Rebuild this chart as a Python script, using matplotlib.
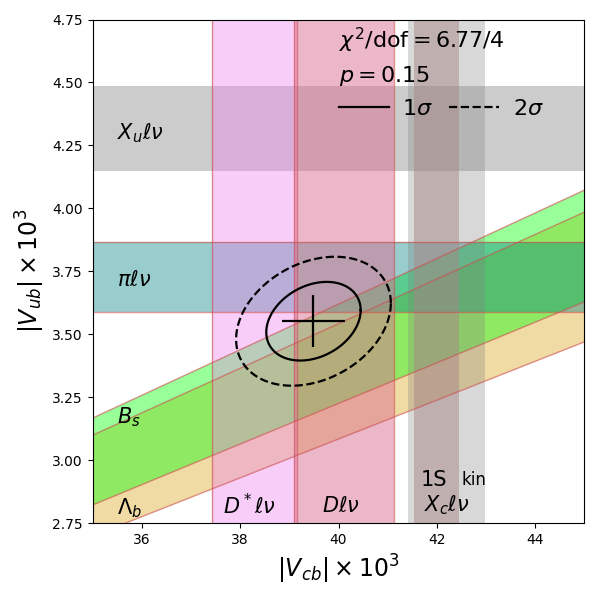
import numpy as np
import matplotlib
matplotlib.use("Agg")
import matplotlib.pyplot as plt
from matplotlib.lines import Line2D

# ---- data ----
vcb_center = 39.49
vub_center = 3.552
sig_vcb = 0.633
sig_vub = 0.103
rho = 0.28
dchi2_levels = [2.30, 6.18]
level_styles = ["-", "--"]
level_names = [r"$1\sigma$", r"$2\sigma$"]

# horizontal bands (|Vub| x 1e3)
h_names = [r"$X_u\ell\nu$", r"$\pi\ell\nu$"]
h_lo = [4.148, 3.587]
h_hi = [4.485, 3.865]
h_colors = ["gray", "teal"]
h_alphas = [0.4, 0.4]
h_edges = [False, True]

# ratio bands |Vub|/|Vcb|
r_names = [r"$\Lambda_b$", r"$B_s$"]
r_lo = [0.07711, 0.08064]
r_hi = [0.08856, 0.09050]
r_colors = ["goldenrod", "lime"]

# vertical bands (|Vcb| x 1e3)
v_names = [r"$D^*\ell\nu$", r"$D\ell\nu$"]
v_lo = [37.434, 39.10]
v_hi = [39.16, 41.12]
v_colors = ["violet", "palevioletred"]
v_alphas = [0.4, 0.5]

xc_names = ["kin", "1S"]
xc_lo = [41.42, 41.54]
xc_hi = [42.985, 42.44]
xc_colors = ["gray", "#a78787"]
xc_alphas = [0.3, 0.5]

chi2_text = r"$\chi^2/\mathrm{dof} = 6.77/4$"
p_text = r"$p = 0.15$"

xlim = (35, 45)
ylim = (2.75, 4.75)
xticks = [36, 38, 40, 42, 44]
yticks = [2.75, 3.00, 3.25, 3.50, 3.75, 4.00, 4.25, 4.50, 4.75]

edge = (0.8, 0.3, 0.3, 0.6)

fig = plt.figure(figsize=(6, 6), dpi=100)
ax = fig.add_axes([0.1545, 0.128, 0.8195, 0.8395])

xs = np.linspace(xlim[0], xlim[1], 200)

# Xu band (gray, no edge)
ax.fill_between(xs, h_lo[0], h_hi[0], facecolor=h_colors[0], alpha=h_alphas[0], lw=0, zorder=1)

# ratio bands
for lo, hi, c in zip(r_lo, r_hi, r_colors):
    ax.fill_between(xs, lo * xs, hi * xs, facecolor=c, alpha=0.4, lw=0, zorder=1)
    ax.plot(xs, lo * xs, color=edge, lw=1, zorder=1.5)
    ax.plot(xs, hi * xs, color=edge, lw=1, zorder=1.5)

# pi band on top of ratio bands
ax.fill_between(xs, h_lo[1], h_hi[1], facecolor=h_colors[1], alpha=h_alphas[1], lw=0, zorder=1)
ax.axhline(h_lo[1], color=edge, lw=1, zorder=1.5)
ax.axhline(h_hi[1], color=edge, lw=1, zorder=1.5)

# vertical bands
for lo, hi, c, a in zip(v_lo, v_hi, v_colors, v_alphas):
    ax.axvspan(lo, hi, facecolor=c, alpha=a, lw=0, zorder=1)
    ax.axvline(lo, color=edge, lw=1, zorder=1.5)
    ax.axvline(hi, color=edge, lw=1, zorder=1.5)

for lo, hi, c, a in zip(xc_lo, xc_hi, xc_colors, xc_alphas):
    ax.axvspan(lo, hi, facecolor=c, alpha=a, lw=0, zorder=1)

# ellipses
cov = np.array([[sig_vcb**2, rho * sig_vcb * sig_vub],
                [rho * sig_vcb * sig_vub, sig_vub**2]])
L = np.linalg.cholesky(cov)
t = np.linspace(0, 2 * np.pi, 300)
circ = np.vstack([np.cos(t), np.sin(t)])
for d, ls in zip(dchi2_levels, level_styles):
    pts = np.sqrt(d) * (L @ circ)
    ax.plot(vcb_center + pts[0], vub_center + pts[1], color="black", ls=ls, lw=1.6, zorder=3)

ax.errorbar([vcb_center], [vub_center], xerr=[sig_vcb], yerr=[sig_vub],
            fmt="none", ecolor="black", elinewidth=1.6, capsize=0, zorder=3)

# labels
fs = 15
ax.text(35.49, 4.30, h_names[0], fontsize=fs, va="center", ha="left", zorder=4)
ax.text(35.49, 3.715, h_names[1], fontsize=fs, va="center", ha="left", zorder=4)
ax.text(35.49, 3.17, r_names[1], fontsize=fs, va="center", ha="left", zorder=4)
ax.text(35.49, 2.81, r_names[0], fontsize=fs, va="center", ha="left", zorder=4)
ax.text(38.19, 2.82, v_names[0], fontsize=fs, va="center", ha="center", zorder=4)
ax.text(40.04, 2.82, v_names[1], fontsize=fs, va="center", ha="center", zorder=4)
ax.text(42.21, 2.82, r"$X_c\ell\nu$", fontsize=fs, va="center", ha="center", zorder=4)
ax.text(41.95, 2.92, xc_names[1], fontsize=fs, va="center", ha="center", zorder=4)
ax.text(42.75, 2.92, xc_names[0], fontsize=12, va="center", ha="center", zorder=4)

ax.text(40.0, 4.636, chi2_text, fontsize=16, va="baseline", ha="left", zorder=4)
ax.text(40.0, 4.502, p_text, fontsize=16, va="baseline", ha="left", zorder=4)

handles = [Line2D([], [], color="black", ls=ls, lw=1.6) for ls in level_styles]
leg = ax.legend(handles, level_names, ncol=2, frameon=False, fontsize=16,
                loc="center left", bbox_to_anchor=(40.0, 4.395),
                bbox_transform=ax.transData, borderaxespad=0, borderpad=0,
                handlelength=2.25, handletextpad=0.6, columnspacing=0.75)

ax.set_xlim(*xlim)
ax.set_ylim(*ylim)
ax.set_xticks(xticks)
ax.set_yticks(yticks)
ax.set_yticklabels([f"{v:.2f}" for v in yticks])
ax.set_xlabel(r"$|V_{cb}|\times 10^3$", fontsize=17)
ax.set_ylabel(r"$|V_{ub}|\times 10^3$", fontsize=17)

fig.savefig("out.png", dpi=100)
